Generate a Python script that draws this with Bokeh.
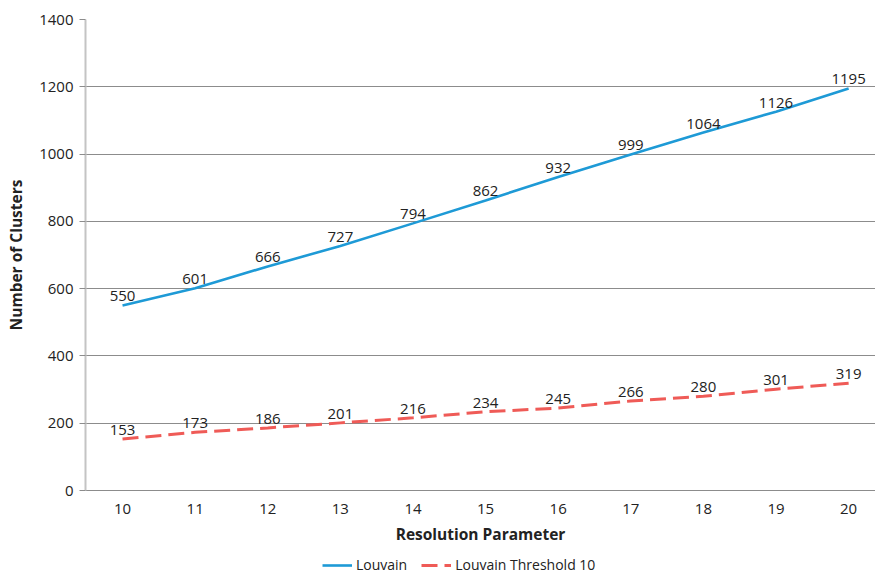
from bokeh.plotting import figure
from bokeh.layouts import column
from bokeh.models import (ColumnDataSource, FixedTicker, Range1d, Legend,
                          LegendItem, LabelSet)
from bokeh.core.properties import value
from bokeh.embed import file_html
from bokeh.resources import INLINE

# Resolution parameter values on the x axis
resolution = [10, 11, 12, 13, 14, 15, 16, 17, 18, 19, 20]
# Number of clusters found by each method
louvain = [550, 601, 666, 727, 794, 862, 932, 999, 1064, 1126, 1195]
louvain_threshold = [153, 173, 186, 201, 216, 234, 245, 266, 280, 301, 319]
y_ticks = [0, 200, 400, 600, 800, 1000, 1200, 1400]
series_names = ["Louvain", "Louvain Threshold 10"]

FONT = "Open Sans"
BLUE = "#1e9ad6"
RED = "#ef5b57"
TEXT = "#222222"
DASH = "16 7"

p = figure(width=875, height=550, output_backend="svg", toolbar_location=None,
           x_range=Range1d(9.49, 20.37), y_range=Range1d(0, 1400),
           min_border_left=85, min_border_right=0, min_border_top=19,
           min_border_bottom=60)
p.outline_line_color = None
p.background_fill_color = "white"
p.border_fill_color = "white"

src_a = ColumnDataSource(dict(x=resolution, y=louvain,
                              lab=[str(v) for v in louvain]))
src_b = ColumnDataSource(dict(x=resolution, y=louvain_threshold,
                              lab=[str(v) for v in louvain_threshold]))

p.line("x", "y", source=src_a, line_color=BLUE, line_width=2.6)
p.line("x", "y", source=src_b, line_color=RED, line_width=3, line_dash=DASH)

for src in (src_a, src_b):
    p.add_layout(LabelSet(x="x", y="y", text="lab", source=src,
                          text_align="center", text_baseline="bottom",
                          y_offset=4, text_font=value(FONT),
                          text_font_size="15px", text_color=TEXT))

# grid
p.xgrid.grid_line_color = None
p.ygrid.grid_line_color = "#8c8c8c"
p.ygrid.grid_line_width = 1
p.ygrid.ticker = FixedTicker(ticks=y_ticks)

# axes
p.xaxis.ticker = FixedTicker(ticks=resolution)
p.yaxis.ticker = FixedTicker(ticks=y_ticks)
for ax in (p.xaxis[0], p.yaxis[0]):
    ax.major_label_text_font = FONT
    ax.major_label_text_font_size = "15px"
    ax.major_label_text_color = TEXT
    ax.axis_label_text_font = FONT
    ax.axis_label_text_font_size = "15.5px"
    ax.axis_label_text_font_style = "bold"
    ax.axis_label_text_color = TEXT
    ax.minor_tick_line_color = None
    ax.major_tick_in = 0

p.xaxis.axis_label = "Resolution Parameter"
p.xaxis.axis_line_color = "#8c8c8c"
p.xaxis.major_tick_line_color = None
p.xaxis.major_label_standoff = 7
p.xaxis.axis_label_standoff = 6

p.yaxis.axis_label = "Number of Clusters"
p.yaxis.axis_line_color = "#c4c4c4"
p.yaxis.axis_line_width = 2
p.yaxis.major_tick_line_color = "#8c8c8c"
p.yaxis.major_tick_out = 6
p.yaxis.major_label_standoff = 6
p.yaxis.axis_label_standoff = 9

# legend strip underneath the chart; the key lines sit outside its range
leg = figure(width=875, height=25, output_backend="svg", toolbar_location=None,
             x_range=Range1d(0, 1), y_range=Range1d(0, 1),
             min_border=0, x_axis_location=None, y_axis_location=None)
leg.outline_line_color = None
leg.xgrid.visible = False
leg.ygrid.visible = False
k_a = leg.line([5, 6], [5, 6], line_color=BLUE, line_width=2.6)
k_b = leg.line([5, 6], [5, 6], line_color=RED, line_width=3, line_dash=DASH)

legend = Legend(items=[LegendItem(label=series_names[0], renderers=[k_a]),
                       LegendItem(label=series_names[1], renderers=[k_b])],
                location=(237, 1), orientation="horizontal",
                label_text_font=FONT, label_text_font_size="14px",
                label_text_color=TEXT, glyph_width=30, glyph_height=14,
                label_standoff=4, spacing=14, padding=0, margin=0,
                border_line_color=None, background_fill_alpha=0)
leg.add_layout(legend, "center")

open("out.html", "w").write(file_html(column(p, leg, spacing=0), INLINE))
